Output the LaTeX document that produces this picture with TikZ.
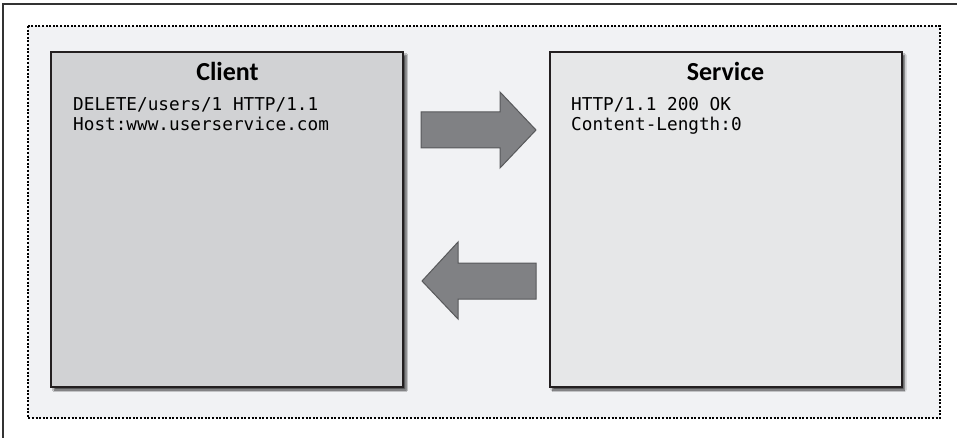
\documentclass[tikz,border=0pt]{standalone}
\usepackage{fontspec}
\setsansfont{Carlito}
\setmonofont{DejaVu Sans Mono}
\usetikzlibrary{shadows.blur}
\definecolor{panelbg}{HTML}{F1F2F4}
\definecolor{clientfill}{HTML}{D1D2D4}
\definecolor{servicefill}{HTML}{E6E7E8}
\definecolor{arrowfill}{HTML}{808184}
\definecolor{arrowline}{HTML}{58595B}
\definecolor{boxline}{HTML}{231F20}
\begin{document}
\begin{tikzpicture}[x=1pt,y=-1pt]
	\def \titlerow{81}
	\def \textrow{97}
	\tikzstyle{hostbox}=[rectangle,draw=boxline,line width=2pt,minimum width=352pt,minimum height=335pt,blur shadow={shadow xshift=3pt,shadow yshift=-3pt,shadow blur steps=6,shadow opacity=70}]
	\tikzstyle{hosttitle}=[font=\sffamily\bfseries\fontsize{26}{30}\selectfont,inner sep=0pt,anchor=base]
	\tikzstyle{msgtext}=[font=\ttfamily\fontsize{17.7}{20}\selectfont,align=left,anchor=north west,inner sep=0pt]
	\tikzstyle{msgarrow}=[fill=arrowfill,draw=arrowline,line width=1pt,line join=miter]
	\useasboundingbox[fill=white] (0,0) rectangle (957,438);
	% page frame
	\draw[line width=1.5pt,draw=black!80] (3,438) -- (3,4) -- (957,4);
	% dotted panel
	\draw[fill=panelbg,line width=2pt,dash pattern=on 2pt off 1.6pt] (28,26) rectangle (940,418);

	% hosts
	\node[hostbox,fill=clientfill]	(client)	at (227,219.5)	{};
	\node[hostbox,fill=servicefill]	(service)	at (725.5,219.5)	{};
	\node[hosttitle]	(client-title)	at (227.5,\titlerow)	{Client};
	\node[hosttitle]	(service-title)	at (725.5,\titlerow)	{Service};

	% messages
	\node[msgtext]	(request)	at (73,\textrow)	{DELETE/users/1 HTTP/1.1\\Host:www.userservice.com};
	\node[msgtext]	(response)	at (571,\textrow)	{HTTP/1.1 200 OK\\Content-Length:0};

	% arrows
	\draw[msgarrow] (421,112) -- (500,112) -- (500,92) -- (536,130) -- (500,168) -- (500,148) -- (421,148) -- cycle;
	\draw[msgarrow] (536,263) -- (458,263) -- (458,242) -- (422,281) -- (458,319) -- (458,299) -- (536,299) -- cycle;
\end{tikzpicture}
\end{document}
